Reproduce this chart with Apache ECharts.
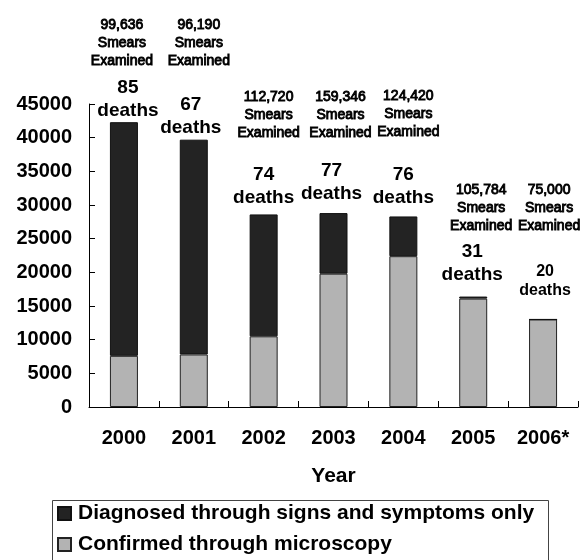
<!DOCTYPE html>
<html>
<head>
<meta charset="utf-8">
<script src="https://cdn.jsdelivr.net/npm/echarts@6/dist/echarts.min.js"></script>
<style>
html,body{margin:0;padding:0;background:#fff;}
#main{width:581px;height:560px;}
</style>
</head>
<body>
<div id="main"></div>
<script>
var years = ['2000', '2001', '2002', '2003', '2004', '2005', '2006*'];
var symptomsOnly = [34700, 31900, 18100, 9000, 5900, 300, 0];
var microscopy = [7600, 7800, 10500, 19800, 22400, 16100, 13000];
var deaths = [85, 67, 74, 77, 76, 31, 20];
var smears = ['99,636', '96,190', '112,720', '159,346', '124,420', '105,784', '75,000'];
var seriesNames = ['Diagnosed through signs and symptoms only', 'Confirmed through microscopy'];

// label layout (pixel offsets, not data)
var deathLayout = [[4, 0], [-3, 0], [0, 5], [-2, 8], [0, 7], [-1, 10], [2, 19]];
var smearLayout = [[-2, 52], [5, 70], [5, 72], [7, 71], [5, 75], [8, 61], [6, 84]];

var FONT = 'Liberation Sans, Arial, sans-serif';

var darkData = symptomsOnly.map(function (v, i) {
  var small = i === 6;
  return {
    value: v,
    label: {
      show: true,
      position: 'top',
      distance: deathLayout[i][1],
      offset: [deathLayout[i][0], 0],
      formatter: deaths[i] + '\ndeaths',
      fontSize: small ? 16 : 19,
      lineHeight: small ? 19 : 23,
      fontWeight: 'bold',
      fontFamily: FONT,
      color: '#000',
      align: 'center'
    }
  };
});

var smearData = years.map(function (y, i) {
  return {
    value: 0,
    label: {
      show: true,
      position: 'top',
      distance: smearLayout[i][1],
      offset: [smearLayout[i][0], 0],
      formatter: smears[i] + '\nSmears\nExamined',
      fontSize: 14,
      lineHeight: 18,
      fontWeight: 'normal',
      fontFamily: FONT,
      color: '#000',
      textBorderColor: '#000',
      textBorderWidth: 0.9,
      align: 'center'
    }
  };
});

var legendText = {fontSize: 21, fontWeight: 'bold', fontFamily: FONT, color: '#000', padding: [0, 0, 0, 2]};

var chart = echarts.init(document.getElementById('main'), null, {renderer: 'canvas'});
chart.setOption({
  animation: false,
  backgroundColor: '#fff',
  grid: {left: 89, right: 3, top: 104, bottom: 153, containLabel: false},
  legend: [
    {
      data: [seriesNames[0]],
      left: 57, top: 503, padding: 0,
      itemWidth: 13, itemHeight: 13, icon: 'rect',
      textStyle: legendText
    },
    {
      data: [seriesNames[1]],
      left: 57, top: 534, padding: 0,
      itemWidth: 13, itemHeight: 13, icon: 'rect',
      textStyle: legendText
    }
  ],
  graphic: [{
    type: 'rect',
    left: 50, top: 498,
    shape: {width: 496, height: 80},
    style: {fill: 'none', stroke: '#444', lineWidth: 1},
    silent: true
  }],
  xAxis: {
    type: 'category',
    data: years,
    name: 'Year',
    nameLocation: 'middle',
    nameGap: 59,
    nameTextStyle: {fontSize: 21, fontWeight: 'bold', fontFamily: FONT, color: '#000'},
    axisLine: {show: true, lineStyle: {color: '#000', width: 1}},
    axisTick: {show: true, inside: true, length: 6, interval: 0, lineStyle: {color: '#000'}},
    axisLabel: {margin: 21, fontSize: 20, fontWeight: 'bold', fontFamily: FONT, color: '#000', interval: 0}
  },
  yAxis: {
    type: 'value',
    min: 0,
    max: 45000,
    interval: 5000,
    axisLine: {show: true, lineStyle: {color: '#000', width: 1}},
    axisTick: {show: true, inside: true, length: 6, lineStyle: {color: '#000'}},
    splitLine: {show: false},
    axisLabel: {
      margin: 17, fontSize: 20, fontWeight: 'bold', fontFamily: FONT, color: '#000',
      formatter: function (v) { return String(v); }
    }
  },
  series: [
    {
      name: seriesNames[1],
      type: 'bar',
      stack: 'total',
      barWidth: 28,
      data: microscopy,
      itemStyle: {color: '#b3b3b3', borderColor: '#222', borderWidth: 1}
    },
    {
      name: seriesNames[0],
      type: 'bar',
      stack: 'total',
      barWidth: 28,
      data: darkData,
      itemStyle: {color: '#232323', borderColor: '#111', borderWidth: 1}
    },
    {
      name: 'smears',
      type: 'bar',
      stack: 'total',
      barWidth: 28,
      data: smearData,
      itemStyle: {color: 'rgba(0,0,0,0)', borderWidth: 0},
      silent: true
    }
  ]
});
</script>
</body>
</html>
